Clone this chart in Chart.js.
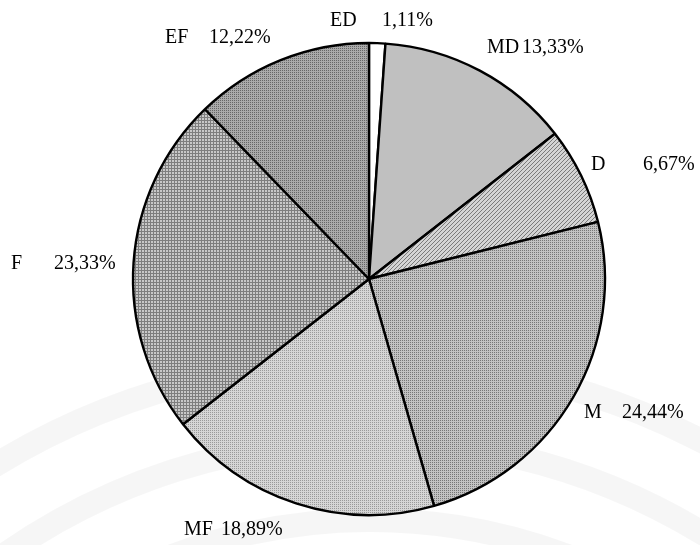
<!DOCTYPE html>
<html>
<head>
<meta charset="utf-8">
<script src="https://cdn.jsdelivr.net/npm/chart.js@4"></script>
<style>
  html, body { margin:0; padding:0; background:#fff; }
  #wrap { width:700px; height:545px; position:relative; }
</style>
</head>
<body>
<div id="wrap"><canvas id="pie" width="700" height="545"></canvas></div>
<script>
// categories and counts (out of 90 responses)
const categories = ['ED', 'MD', 'D', 'M', 'MF', 'F', 'EF'];
const counts = [1, 12, 6, 22, 17, 21, 11];

// where each label sits: name x, percent x, baseline y
const labelPos = [
  [330, 382, 26],
  [487, 522, 53],
  [591, 643, 170],
  [584, 622, 418],
  [184, 221, 535],
  [11, 54, 269],
  [165, 209, 43]
];

function pattern(w, h, bg, fg, pts){
  const c = document.createElement('canvas');
  c.width = w; c.height = h;
  const g = c.getContext('2d');
  g.fillStyle = bg; g.fillRect(0, 0, w, h);
  g.fillStyle = fg;
  pts.forEach(p => g.fillRect(p[0], p[1], 1, 1));
  return g.createPattern(c, 'repeat');
}

const ctx = document.getElementById('pie').getContext('2d');
const fills = [
  '#ffffff',
  '#c0c0c0',
  pattern(4, 4, '#d4d4d4', '#7a7a7a', [[3,0],[2,1],[1,2],[0,3]]),
  pattern(2, 2, '#c2c2c2', '#767676', [[0,0]]),
  pattern(2, 2, '#d6d6d6', '#9a9a9a', [[0,0]]),
  pattern(3, 3, '#c8c8c8', '#7e7e7e', [[0,0],[1,0],[2,0],[0,1],[0,2]]),
  pattern(2, 2, '#aaaaaa', '#666666', [[0,0]])
];

const total = counts.reduce((a, b) => a + b, 0);

const backdrop = {
  id: 'backdrop',
  beforeDraw(chart){
    const g = chart.ctx;
    g.save();
    g.strokeStyle = 'rgba(0,0,0,0.035)';
    g.lineWidth = 24;
    [560, 640, 720].forEach(r => {
      g.beginPath();
      g.arc(370, 1080, r, Math.PI * 1.05, Math.PI * 1.95);
      g.stroke();
    });
    g.restore();
  }
};

const labels = {
  id: 'labels',
  afterDraw(chart){
    const g = chart.ctx;
    g.save();
    g.font = '20px "Liberation Serif", "Times New Roman", serif';
    g.fillStyle = '#000';
    g.textBaseline = 'alphabetic';
    categories.forEach((name, i) => {
      const pct = (counts[i] / total * 100).toFixed(2).replace('.', ',') + '%';
      const p = labelPos[i];
      g.fillText(name, p[0], p[2]);
      g.fillText(pct, p[1], p[2]);
    });
    g.restore();
  }
};

new Chart(ctx, {
  type: 'pie',
  data: {
    labels: categories,
    datasets: [{
      data: counts,
      backgroundColor: fills,
      borderColor: '#000',
      borderWidth: 2.4,
      radius: 236
    }]
  },
  options: {
    responsive: false,
    animation: false,
    devicePixelRatio: 1,
    layout: { padding: { left: 133, right: 95, top: 43, bottom: 30 } },
    plugins: { legend: { display: false }, tooltip: { enabled: false } }
  },
  plugins: [backdrop, labels]
});
</script>
</body>
</html>
